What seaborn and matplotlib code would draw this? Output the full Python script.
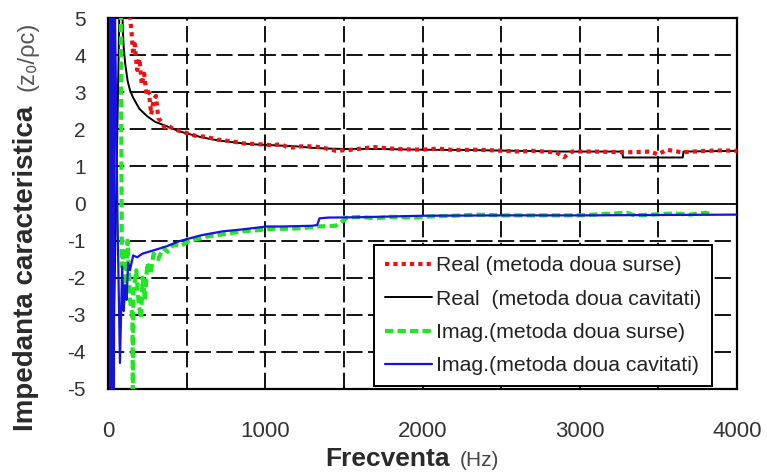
import numpy as np
import pandas as pd
import matplotlib
matplotlib.use("Agg")
import matplotlib.pyplot as plt
import seaborn as sns

# Real part, two-cavity method
real_cav_f = [6, 8, 10, 12, 14, 80, 95, 100, 110, 125, 140, 160, 200, 250, 300, 375,
              450, 500, 600, 700, 800, 900, 1000, 1100, 1200, 1300, 1400, 1500, 1700,
              2000, 2300, 2600, 2900, 3270, 3275, 3655, 3660, 4000]
real_cav_v = [-9, 9, -9, 9, -9, 7, 4.6, 4.2, 3.75, 3.3, 3.05, 2.85, 2.55, 2.35, 2.2, 2.08,
              1.95, 1.89, 1.78, 1.7, 1.65, 1.6, 1.58, 1.56, 1.54, 1.5, 1.48, 1.47, 1.47,
              1.45, 1.44, 1.42, 1.4, 1.4, 1.24, 1.24, 1.4, 1.42]

# Real part, two-source method
real_src_f = [95, 110, 130, 150, 160, 170, 185, 200, 215, 230, 245, 260, 275, 290, 305,
              320, 340, 360, 380, 420, 460, 500, 560, 620, 700, 780, 860, 950, 1050,
              1100, 1150, 1250, 1350, 1450, 1550, 1650, 1700, 1800, 1900, 2000, 2100,
              2200, 2350, 2620, 2700, 2850, 2900, 2950, 3100, 3300, 3450, 3500, 3550,
              3650, 3800, 3900, 4000]
real_src_v = [9, 6, 5.5, 4.6, 4.0, 4.3, 3.6, 3.9, 3.2, 3.5, 2.9, 3.0, 2.4, 2.8, 2.9,
              2.3, 2.2, 2.05, 2.1, 2.0, 1.95, 1.9, 1.82, 1.8, 1.72, 1.68, 1.62, 1.6, 1.57,
              1.6, 1.5, 1.55, 1.52, 1.42, 1.45, 1.5, 1.52, 1.48, 1.46, 1.45, 1.48,
              1.44, 1.45, 1.4, 1.42, 1.38, 1.25, 1.4, 1.4, 1.38, 1.4, 1.32, 1.45,
              1.38, 1.42, 1.43, 1.42]

# Imaginary part, two-source method
imag_src_f = [78, 88, 100, 115, 125, 140, 155, 158, 162, 180, 195, 210, 220, 235, 250,
              270, 290, 320, 350, 380, 420, 460, 520, 580, 640, 700, 780, 850, 950,
              1050, 1150, 1250, 1330, 1450, 1500, 1520, 1600, 1700, 1800, 1950, 2050,
              2200, 2350, 2500, 2700, 3000, 3300, 3350, 3600, 3700, 3800, 3850]
imag_src_v = [9, -1.7, -1.2, -2.2, -1.0, -2.6, -3.0, -5.2, -2.4, -1.8, -2.7, -3.1, -2.0,
              -2.6, -1.6, -1.9, -1.35, -1.5, -1.2, -1.3, -1.1, -1.15, -1.0, -0.95, -0.88,
              -0.85, -0.8, -0.75, -0.72, -0.68, -0.68, -0.66, -0.62, -0.6, -0.45, -0.38,
              -0.36, -0.4, -0.36, -0.38, -0.35, -0.33, -0.3, -0.32, -0.32, -0.32, -0.25,
              -0.32, -0.27, -0.3, -0.25, -0.3]

# Imaginary part, two-cavity method
imag_cav_f = [12, 16, 20, 24, 28, 32, 36, 42, 60, 76, 90, 100, 108, 118, 128, 140, 160,
              185, 220, 260, 300, 375, 450, 510, 600, 730, 850, 1010, 1100, 1300, 1330,
              1345, 1400, 1600, 1800, 2000, 2500, 3000, 3500, 4000]
imag_cav_v = [-9, 9, -9, 9, -9, 9, -9, 6, -0.3, -4.3, -1.7, -2.9, -2.2, -2.6, -1.6, -1.8,
              -1.4, -1.45, -1.35, -1.3, -1.25, -1.15, -1.02, -0.95, -0.85, -0.75, -0.7,
              -0.62, -0.62, -0.6, -0.58, -0.4, -0.38, -0.37, -0.35, -0.33, -0.32, -0.32,
              -0.31, -0.3]

labels = ["Real (metoda doua surse)", "Real  (metoda doua cavitati)",
          "Imag.(metoda doua surse)", "Imag.(metoda doua cavitati)"]
x_ticks = [0, 1000, 2000, 3000, 4000]
y_ticks = [5, 4, 3, 2, 1, 0, -1, -2, -3, -4, -5]

sns.set_theme(style="white")
plt.rcParams["font.family"] = ["Liberation Sans", "DejaVu Sans"]

W, H = 767, 474
fig = plt.figure(figsize=(W / 100, H / 100), dpi=100)
ax = fig.add_axes([108 / W, 85 / H, 629 / W, 371 / H])

# grid first, so the curves sit above it
for xv in range(500, 4000, 500):
    ax.axvline(xv, color="black", lw=1.3, ls=(0, (9, 3)), zorder=1)
for yv in y_ticks:
    if yv in (5, -5):
        continue
    ax.axhline(yv, color="black", lw=1.3, ls="-" if yv == 0 else (0, (9, 3)), zorder=1)

sns.lineplot(x=real_cav_f, y=real_cav_v, ax=ax, color="black", lw=1.4,
             estimator=None, sort=False, label=labels[1], zorder=3)
sns.lineplot(x=real_src_f, y=real_src_v, ax=ax, color="#ee1111", lw=3.0,
             linestyle=(0, (1, 1)), estimator=None, sort=False, label=labels[0], zorder=4)
sns.lineplot(x=imag_src_f, y=imag_src_v, ax=ax, color="#22e622", lw=3.0,
             linestyle=(0, (2, 1)), estimator=None, sort=False, label=labels[2], zorder=4)
sns.lineplot(x=imag_cav_f, y=imag_cav_v, ax=ax, color="#1414dc", lw=1.6,
             estimator=None, sort=False, label=labels[3], zorder=5)

ax.set_xlim(0, 4000)
ax.set_ylim(-5, 5)
ax.set_xticks(x_ticks)
ax.set_yticks(y_ticks)
ax.set_xticklabels([str(v) for v in x_ticks])
ax.set_yticklabels([str(v) for v in y_ticks])
ax.tick_params(axis="x", length=0, pad=23, labelsize=16, labelcolor="#333333")
ax.tick_params(axis="y", length=0, pad=16, labelsize=15, labelcolor="#333333")
ax.set_xlabel("")
ax.set_ylabel("")
for s in ax.spines.values():
    s.set_visible(True)
    s.set_color("black")
    s.set_linewidth(1.6)

# legend in the desired order
handles, labs = ax.get_legend_handles_labels()
order = [labs.index(l) for l in labels]
leg = ax.legend([handles[i] for i in order], [labs[i] for i in order],
                loc="lower right", bbox_to_anchor=(0.96, 0.008), borderaxespad=0,
                fontsize=15.3, frameon=True, fancybox=False, handlelength=2.2,
                handletextpad=0.2, labelspacing=0.68, borderpad=0.5)
leg.get_frame().set_edgecolor("black")
leg.get_frame().set_linewidth(1.4)
leg.get_frame().set_facecolor("white")
leg.get_frame().set_alpha(1)
leg.set_zorder(10)
for t in leg.get_texts():
    t.set_color("#222222")

# axis titles with a smaller unit part
fig.text(325 / W, 8 / H, "Frecventa", fontsize=19, fontweight="bold", color="#2a2a2a",
         ha="left", va="baseline")
fig.text(460 / W, 8 / H, "(Hz)", fontsize=15, color="#444444",
         ha="left", va="baseline")
fig.text(33 / W, (H - 431) / H, "Impedanta caracteristica", fontsize=20,
         fontweight="bold", color="#2a2a2a",
         rotation=90, rotation_mode="anchor", ha="left", va="baseline")
fig.text(34 / W, (H - 91) / H, "(z\u2080/\u03c1c)", fontsize=17, color="#555555",
         rotation=90, rotation_mode="anchor", ha="left", va="baseline")

fig.savefig("out.png", dpi=100, facecolor="white")
